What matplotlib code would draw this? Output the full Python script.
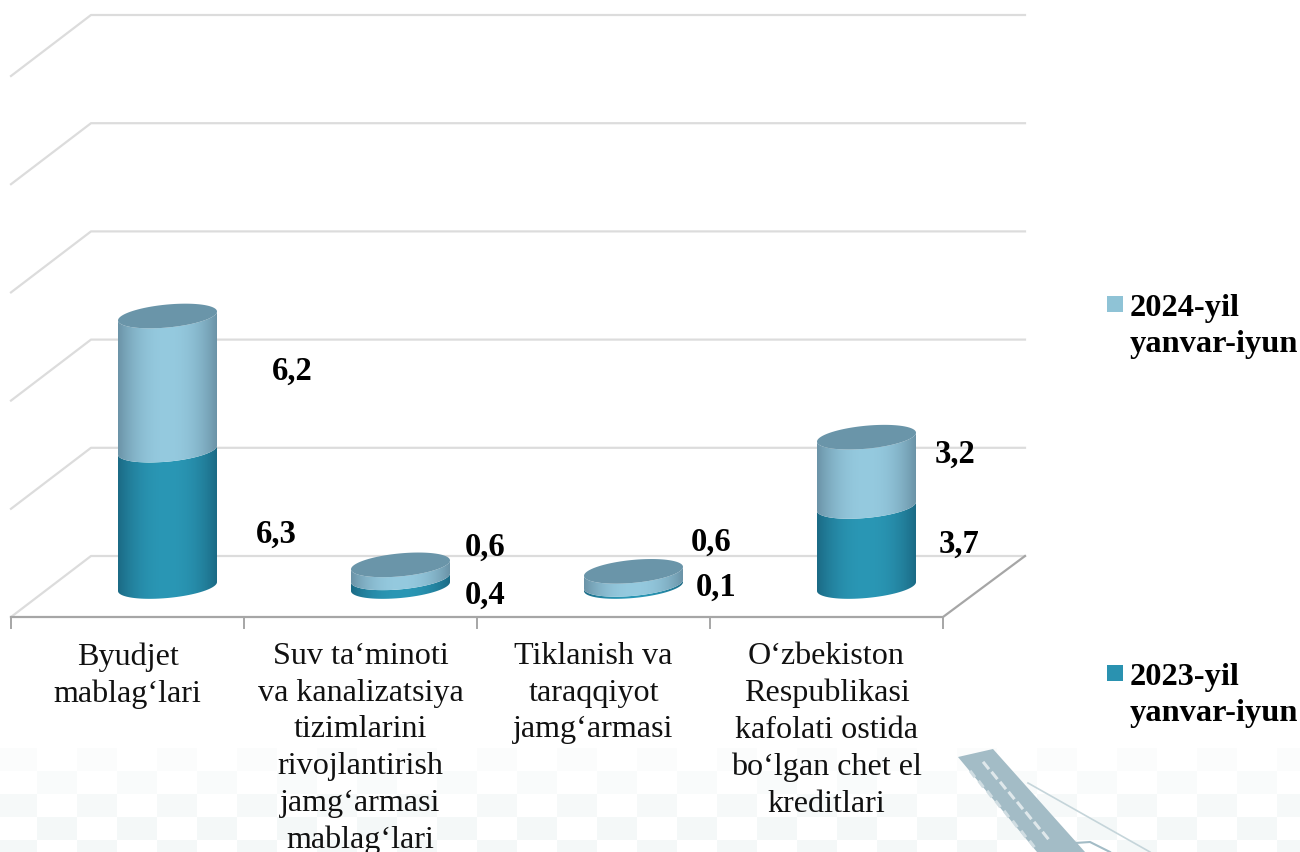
"""Stacked 3D-look cylinder chart, drawn on one pixel-sized axes."""
import matplotlib
matplotlib.use("Agg")
import matplotlib.pyplot as plt
import numpy as np
from matplotlib.patches import PathPatch, Polygon, Rectangle
from matplotlib.path import Path

plt.rcParams["font.family"] = ["Liberation Serif", "DejaVu Serif"]

categories = [
    "Byudjet\nmablag‘lari",
    "Suv ta‘minoti\nva kanalizatsiya\ntizimlarini\nrivojlantirish\njamg‘armasi\nmablag‘lari",
    "Tiklanish va\ntaraqqiyot\njamg‘armasi",
    "O‘zbekiston\nRespublikasi\nkafolati ostida\nbo‘lgan chet el\nkreditlari",
]
values_2023 = [6.3, 0.4, 0.1, 3.7]
values_2024 = [6.2, 0.6, 0.6, 3.2]
series_names = ["2023-yil\nyanvar-iyun", "2024-yil\nyanvar-iyun"]
axis_max = 25
axis_step = 5

W, H = 1300, 852
FRONT_X, FRONT_Y = 11, 617
BACK_DX, BACK_DY = 80, -61
SLOT = 233
PX_PER_UNIT = 21.64
RX, RY, TILT = 49.5, 11.5, 0.09

DARK = ("#1b6a85", "#2a97b5")
LIGHT = ("#6b93a7", "#95cadf")
CAP = "#6a95a9"
GRID = "#dcdcdc"
AXIS = "#a6a6a6"
DARK_SWATCH, LIGHT_SWATCH = "#2a92b0", "#8fc3d6"

# data label offsets from the cylinder axis / top of the segment
LABEL_OFFSETS_2023 = [(109, 84), (85, 17), (83, 3), (93, 38)]
LABEL_OFFSETS_2024 = [(125, 55), (85, -18), (78, -29), (88, 17)]


def cat_x(i):
    return FRONT_X + SLOT * (i + 0.5) + BACK_DX / 2


def val_y(v):
    return FRONT_Y + BACK_DY / 2 - PX_PER_UNIT * v


def ellipse(cx, cy, t):
    x = cx + RX * np.cos(t)
    y = cy + RY * np.sin(t) - TILT * RX * np.cos(t)
    return x, y


def draw_segment(ax, cx, v0, v1, colors):
    # front half of the lower ring, then back along the front half of the upper ring
    t = np.linspace(0, np.pi, 60)
    x0, y0 = ellipse(cx, val_y(v0), t)
    x1, y1 = ellipse(cx, val_y(v1), t[::-1])
    verts = np.r_[np.c_[x0, y0], np.c_[x1, y1], [[x0[0], y0[0]]]]
    edge = np.array(matplotlib.colors.to_rgb(colors[0]))
    mid = np.array(matplotlib.colors.to_rgb(colors[1]))
    u = np.abs(np.linspace(-1, 1, 200)) ** 2.2
    grad = (mid[None, :] * (1 - u[:, None]) + edge[None, :] * u[:, None])[None, :, :]
    top = verts[:, 1].min()
    bottom = verts[:, 1].max()
    im = ax.imshow(grad, extent=(cx - RX, cx + RX, bottom, top), aspect="auto", zorder=5)
    patch = PathPatch(Path(verts), transform=ax.transData, fc="none", ec="none")
    ax.add_patch(patch)
    im.set_clip_path(patch)


def draw_cap(ax, cx, v):
    t = np.linspace(0, 2 * np.pi, 120)
    x, y = ellipse(cx, val_y(v), t)
    ax.fill(x, y, color=CAP, lw=0, zorder=6)


def draw_backdrop(ax):
    # faint chequered watermark along the bottom
    for row, y in enumerate(range(748, H, 23)):
        for col, x in enumerate(range(-3, W, 40)):
            if (row + col) % 2 == 0:
                ax.add_patch(Rectangle((x, y), 40, 23, fc="#eef4f4",
                                       alpha=min(0.2 + 0.15 * row, 0.6), lw=0, zorder=0))
    # crane arm in the watermark
    ax.add_patch(Polygon([(958, 757), (993, 749), (1085, 852), (1037, 852)],
                         fc="#a3bcc6", lw=0, zorder=1))
    for k in range(8):
        f = k / 8
        x, y = 984 + 68 * f, 763 + 80 * f
        ax.plot([x, x + 4], [y, y + 5], color="#dfe8eb", lw=2.2, zorder=1)
        ax.plot([x - 13, x - 10], [y + 9, y + 13], color="#d0dde2", lw=2.2, zorder=1)
    ax.plot([1028, 1150], [783, 852], color="#c5d5da", lw=1.2, zorder=1)
    ax.plot([1064, 1075, 1090, 1110], [852, 843, 842, 852], color="#a3bcc6", lw=1.5, zorder=1)


def draw_frame(ax):
    for k in range(0, axis_max + 1, axis_step):
        y = FRONT_Y - PX_PER_UNIT * k
        back_x, back_y = FRONT_X + BACK_DX, y + BACK_DY
        ax.plot([FRONT_X, back_x, FRONT_X + SLOT * 4 + 82],
                [y, back_y, back_y], color=GRID, lw=1.6, zorder=2)
    n = len(categories)
    right = FRONT_X + SLOT * n
    ax.plot([FRONT_X, right, right + 82], [FRONT_Y, FRONT_Y, FRONT_Y + BACK_DY],
            color=AXIS, lw=1.6, zorder=3)
    for i in range(n + 1):
        ax.plot([FRONT_X + SLOT * i] * 2, [FRONT_Y, FRONT_Y + 11], color=AXIS, lw=1.4, zorder=3)


fig = plt.figure(figsize=(W / 100, H / 100), dpi=100)
ax = fig.add_axes([0, 0, 1, 1])

draw_backdrop(ax)
draw_frame(ax)

for i, (a, b) in enumerate(zip(values_2023, values_2024)):
    cx = cat_x(i)
    draw_segment(ax, cx, 0, a, DARK)
    draw_segment(ax, cx, a, a + b, LIGHT)
    draw_cap(ax, cx, a + b)

    tick_mid = FRONT_X + SLOT * (i + 0.5)
    ax.text(tick_mid, 642, categories[i], ha="center", va="top", fontsize=23.1,
            linespacing=1.35, color="#111111", zorder=7)

    dx, dy = LABEL_OFFSETS_2023[i]
    ax.text(cx + dx, val_y(a) + dy, f"{a}".replace(".", ","), ha="center", va="center",
            fontsize=23.5, fontweight="bold", zorder=8)
    dx, dy = LABEL_OFFSETS_2024[i]
    ax.text(cx + dx, val_y(a + b) + dy, f"{b}".replace(".", ","), ha="center", va="center",
            fontsize=23.5, fontweight="bold", zorder=8)

for name, color, y in zip(series_names, [DARK_SWATCH, LIGHT_SWATCH], [665, 296]):
    ax.add_patch(Rectangle((1107, y), 16, 16, fc=color, lw=0, zorder=8))
    ax.text(1130, y - 2, name, ha="left", va="top", fontsize=23.3, fontweight="bold",
            linespacing=1.3, zorder=8)

ax.set_xlim(0, W)
ax.set_ylim(H, 0)
ax.axis("off")
fig.savefig("out.png", dpi=100, facecolor="white")
